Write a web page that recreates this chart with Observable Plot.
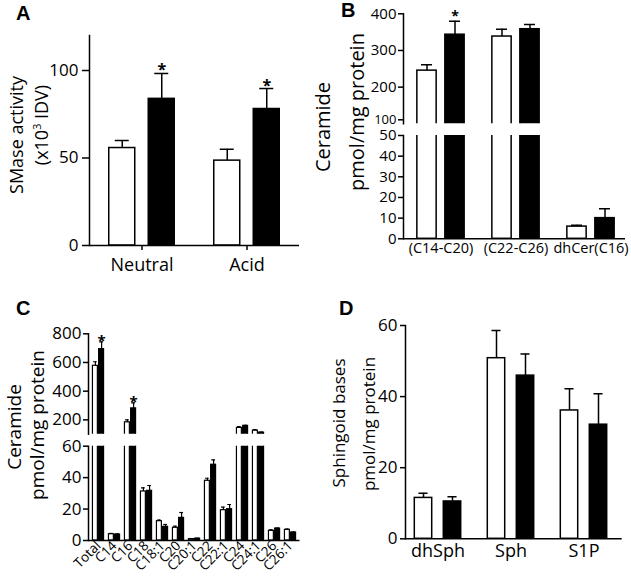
<!DOCTYPE html>
<html><head><meta charset="utf-8">
<script src="https://cdn.jsdelivr.net/npm/d3@7"></script>
<script src="https://cdn.jsdelivr.net/npm/@observablehq/plot@0.6"></script>
<style>
body{margin:0;background:#fff;}
#fig{position:relative;width:631px;height:578px;font-family:"Open Sans",sans-serif;color:#000;overflow:hidden;background:#fff}
.pane{position:absolute}
.ylab{position:absolute;transform:translate(-50%,-50%) rotate(-90deg);white-space:nowrap;line-height:1;font-family:"Open Sans",sans-serif;color:#000}
.ylab sup{font-size:0.6em;vertical-align:super;line-height:0}
.letter{position:absolute;font-family:"Liberation Sans",Arial,sans-serif;font-weight:bold;font-size:20px;line-height:1;color:#000}
</style></head><body><div id="fig"></div>
<script>
// ---------- DATA ----------
// Panel A: SMase activity (x10^3 IDV)
const catsA = ["Neutral", "Acid"];
const ctrlA = [55.7, 48.5];
const ctrlSemA = [4.3, 6.5];
const trtA = [83.8, 78.0];
const trtSemA = [14.5, 11.7];
const sigA = [true, true];
const ticksA = [0, 50, 100];

// Panel B: Ceramide pmol/mg protein (broken axis)
const catsB = ["(C14-C20)", "(C22-C26)", "dhCer(C16)"];
const ctrlB = [245, 338, 5.9];
const ctrlSemB = [16, 20, 0.6];
const trtB = [343, 358, 10.0];
const trtSemB = [37, 13, 4.6];
const sigB = [true, false, false];
const ticksBUpper = [200, 300, 400];
const ticksBBreak = [100];
const ticksBLower = [0, 10, 20, 30, 40, 50];

// Panel C: Ceramide species pmol/mg protein (broken axis)
const catsC = ["Total", "C14", "C16", "C18", "C18:1", "C20", "C20:1", "C22", "C22:1", "C24", "C24:1", "C26", "C26:1"];
const ctrlC = [577, 4.0, 183, 31.2, 12.3, 8.1, 0.9, 38.0, 19.3, 144, 125, 6.2, 6.8];
const ctrlSemC = [28, 0.5, 17, 2.3, 0.7, 1.0, 0.2, 1.6, 1.9, 9, 7, 0.6, 0.5];
const trtC = [693, 3.8, 280, 31.6, 8.7, 14.4, 1.2, 48.2, 19.9, 158, 111, 7.6, 5.1];
const trtSemC = [51, 0.4, 38, 3.4, 1.5, 3.4, 0.2, 3.1, 3.0, 4, 3, 0.3, 0.3];
const sigC = [true, false, true, false, false, false, false, false, false, false, false, false, false];
const ticksCUpper = [200, 400, 600, 800];
const ticksCLower = [0, 20, 40, 60];

// Panel D: Sphingoid bases pmol/mg protein
const catsD = ["dhSph", "Sph", "S1P"];
const ctrlD = [11.5, 50.8, 36.1];
const ctrlSemD = [1.3, 7.8, 6.1];
const trtD = [10.5, 45.9, 32.1];
const trtSemD = [1.3, 6.1, 8.7];
const sigD = [false, false, false];
const ticksD = [0, 20, 40, 60];

// ---------- helpers ----------
function rows(cats, ctrl, ctrlSem, trt, trtSem, sig) {
  return cats.map((c, i) => ({
    cat: c, ctrl: ctrl[i], ctrlTop: ctrl[i] + ctrlSem[i],
    trt: trt[i], trtTop: trt[i] + trtSem[i], star: sig[i]
  }));
}
// g: bw band width, o offset of each bar centre from band centre, w bar width, cw cap width
function pairMarks(data, g, withStars) {
  const h = g.bw / 2;
  const sw = g.sw ?? 1.5;
  const m = [
    Plot.barY(data, {x: "cat", y: "ctrl", fill: "white", stroke: "black", strokeWidth: sw,
      insetLeft: h - g.o - g.w / 2, insetRight: h + g.o - g.w / 2, clip: true}),
    Plot.ruleX(data, {x: "cat", y1: "ctrl", y2: "ctrlTop", dx: -g.o, stroke: "black", strokeWidth: sw, clip: true}),
    Plot.tickY(data, {x: "cat", y: "ctrlTop", stroke: "black", strokeWidth: sw,
      insetLeft: h - g.o - g.cw / 2, insetRight: h + g.o - g.cw / 2, clip: true}),
    Plot.barY(data, {x: "cat", y: "trt", fill: "black", stroke: "black", strokeWidth: sw,
      insetLeft: h + g.o - g.w / 2, insetRight: h - g.o - g.w / 2, clip: true}),
    Plot.ruleX(data, {x: "cat", y1: "trt", y2: "trtTop", dx: g.o, stroke: "black", strokeWidth: sw, clip: true}),
    Plot.tickY(data, {x: "cat", y: "trtTop", stroke: "black", strokeWidth: sw,
      insetLeft: h + g.o - g.cw / 2, insetRight: h - g.o - g.cw / 2, clip: true})
  ];
  if (withStars) {
    m.push(Plot.text(data.filter(d => d.star), {x: "cat", y: "trtTop", text: () => "*", dx: g.o, dy: g.sdy,
      lineAnchor: "bottom", fontSize: g.sfs, fontWeight: "bold", fill: "black"}));
  }
  return m;
}
const fig = document.getElementById("fig");
function place(el, left, top) {
  const d = document.createElement("div");
  d.className = "pane";
  d.style.left = left + "px"; d.style.top = top + "px";
  d.appendChild(el);
  fig.appendChild(d);
}
function label(html, cx, cy, fs, cls = "ylab") {
  const d = document.createElement("div");
  d.className = cls;
  d.innerHTML = html;
  d.style.left = cx + "px"; d.style.top = cy + "px"; d.style.fontSize = fs + "px";
  fig.appendChild(d);
}
function letter(t, left, top) {
  const d = document.createElement("div");
  d.className = "letter"; d.textContent = t;
  d.style.left = left + "px"; d.style.top = top + "px";
  fig.appendChild(d);
}
const baseStyle = {fontFamily: "Open Sans, sans-serif", background: "transparent", color: "black", overflow: "visible"};
const axisLine = (anchor) => Plot.frame({anchor, stroke: "black", strokeWidth: 1.5});

// ---------- Panel A ----------
const dataA = rows(catsA, ctrlA, ctrlSemA, trtA, trtSemA, sigA);
place(Plot.plot({
  width: 310, height: 290, marginLeft: 89, marginRight: 11, marginTop: 35, marginBottom: 45,
  style: baseStyle,
  x: {domain: catsA, padding: 0},
  y: {domain: [0, 120]},
  marks: [
    ...pairMarks(dataA, {bw: 105, o: 19.75, w: 26, cw: 14, sdy: 2, sfs: 16}, true),
    Plot.axisY({ticks: ticksA, tickSize: 7, tickPadding: 4, fontSize: 17, stroke: "black", strokeWidth: 1.5, fill: "black", label: null}),
    Plot.axisX({tickSize: 5, tickPadding: 8, fontSize: 18, stroke: "black", strokeWidth: 1.5, fill: "black", label: null}),
    axisLine("left"),
    Plot.ruleY([0], {stroke: "black", strokeWidth: 1.5})
  ]
}), 0, 0);

// ---------- Panel B ----------
const dataB = rows(catsB, ctrlB, ctrlSemB, trtB, trtSemB, sigB);
const gB = {bw: 75, o: 14, w: 19.3, cw: 11, sdy: 0, sfs: 14};
place(Plot.plot({
  width: 321, height: 126, marginLeft: 93, marginRight: 6, marginTop: 13.3, marginBottom: 2.7,
  style: baseStyle,
  x: {domain: catsB, padding: 0, insetRight: -3, axis: null},
  y: {domain: [100, 400]},
  marks: [
    ...pairMarks(dataB, gB, true),
    Plot.axisY({ticks: ticksBUpper, tickSize: 5, tickPadding: 2, fontSize: 15, stroke: "black", strokeWidth: 1.5, fill: "black", label: null}),
    Plot.axisY({ticks: ticksBBreak, tickSize: 5, tickPadding: 2, fontSize: 13, dy: -4, stroke: "black", strokeWidth: 1.5, fill: "black", label: null}),
    axisLine("left")
  ]
}), 310, 0);
place(Plot.plot({
  width: 321, height: 150, marginLeft: 93, marginRight: 6, marginTop: 7, marginBottom: 39.7,
  style: baseStyle,
  x: {domain: catsB, padding: 0, insetRight: -3},
  y: {domain: [0, 50]},
  marks: [
    ...pairMarks(dataB, gB, false),
    Plot.axisY({ticks: ticksBLower, tickSize: 5, tickPadding: 2, fontSize: 15, stroke: "black", strokeWidth: 1.5, fill: "black", label: null}),
    Plot.axisX({tickSize: 0, tickPadding: 4, fontSize: 14.5, fill: "black", label: null}),
    axisLine("left"),
    Plot.ruleY([0], {stroke: "black", strokeWidth: 1.5})
  ]
}), 310, 128);

// ---------- Panel C ----------
const dataC = rows(catsC, ctrlC, ctrlSemC, trtC, trtSemC, sigC);
const gC = {bw: 211.5 / 13, o: 3.1, w: 5.2, cw: 4, sdy: 4, sfs: 15, sw: 1.2};
place(Plot.plot({
  width: 310, height: 118, marginLeft: 88, marginRight: 10.5, marginTop: 15.3, marginBottom: 2.3,
  style: baseStyle,
  x: {domain: catsC, padding: 0, axis: null},
  y: {domain: [100, 800]},
  marks: [
    ...pairMarks(dataC, gC, true),
    Plot.axisY({ticks: ticksCUpper, tickSize: 5, tickPadding: 2, fontSize: 17, stroke: "black", strokeWidth: 1.5, fill: "black", label: null}),
    axisLine("left")
  ]
}), 0, 318);
place(Plot.plot({
  width: 310, height: 140, marginLeft: 88, marginRight: 10.5, marginTop: 7.7, marginBottom: 38,
  style: baseStyle,
  x: {domain: catsC, padding: 0},
  y: {domain: [0, 60]},
  marks: [
    ...pairMarks(dataC, gC, false),
    Plot.axisY({ticks: ticksCLower, tickSize: 5, tickPadding: 2, fontSize: 17, stroke: "black", strokeWidth: 1.5, fill: "black", label: null}),
    Plot.axisX({tickSize: 0, tickPadding: 3, tickRotate: -45, fontSize: 13.5, fill: "black", label: null}),
    axisLine("left"),
    Plot.ruleY([0], {stroke: "black", strokeWidth: 1.5})
  ]
}), 0, 438);

// ---------- Panel D ----------
const dataD = rows(catsD, ctrlD, ctrlSemD, trtD, trtSemD, sigD);
place(Plot.plot({
  width: 321, height: 288, marginLeft: 95, marginRight: 9.3, marginTop: 35, marginBottom: 39.7,
  style: baseStyle,
  x: {domain: catsD, padding: 0, insetLeft: -5},
  y: {domain: [0, 60]},
  marks: [
    ...pairMarks(dataD, {bw: 73.9, o: 14.5, w: 18.3, cw: 10}, false),
    Plot.axisY({ticks: ticksD, tickSize: 5, tickPadding: 3, fontSize: 17, stroke: "black", strokeWidth: 1.5, fill: "black", label: null}),
    Plot.axisX({tickSize: 0, tickPadding: 5, fontSize: 18, fill: "black", label: null}),
    axisLine("left"),
    Plot.ruleY([0], {stroke: "black", strokeWidth: 1.5})
  ]
}), 310, 290);

// ---------- axis titles & panel letters ----------
label("SMase activity", 16, 135, 18);
label("(x10<sup>3</sup> IDV)", 41, 125, 18);
label("Ceramide", 323, 127, 20);
label("pmol/mg protein", 357, 112, 20);
label("Ceramide", 14, 427, 19);
label("pmol/mg protein", 37, 425, 19);
label("Sphingoid bases", 338, 423, 17);
label("pmol/mg protein", 368, 424, 17);
letter("A", 16, 3);
letter("B", 341, 0);
letter("C", 16, 298);
letter("D", 339, 298);
</script></body></html>
